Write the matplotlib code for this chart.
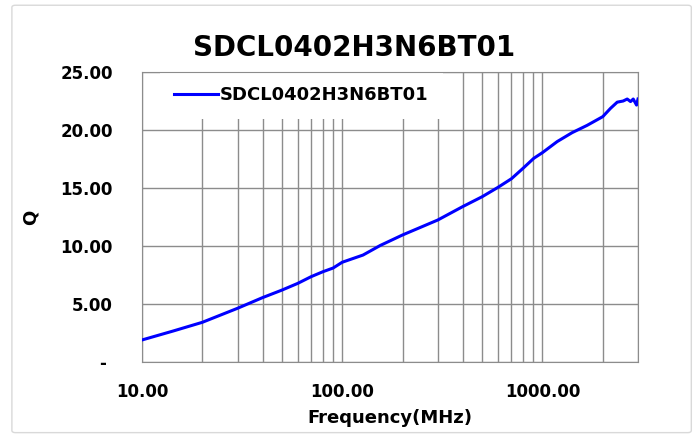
import matplotlib
matplotlib.use("Agg")
import matplotlib.pyplot as plt
from matplotlib.ticker import FixedLocator, FuncFormatter, NullFormatter
from matplotlib.patches import FancyBboxPatch

# values
freq_mhz = [10, 14.3, 20, 30, 40, 50, 60, 70, 80, 90, 100, 127, 155, 200, 300, 400, 500,
            600, 700, 800, 905, 1000, 1184, 1406, 1671, 2000, 2188, 2362, 2530, 2650, 2754,
            2840, 2950, 3000]
q_values = [1.9, 2.67, 3.42, 4.63, 5.55, 6.2, 6.78, 7.36, 7.78, 8.1, 8.6, 9.22, 10.05, 10.95,
            12.24, 13.4, 14.25, 15.06, 15.8, 16.7, 17.56, 18.05, 19.0, 19.77, 20.4, 21.15, 21.87,
            22.4, 22.5, 22.67, 22.45, 22.67, 22.15, 22.67]
y_ticks = [0, 5, 10, 15, 20, 25]
x_ticks = [10, 100, 1000]
part_name = "SDCL0402H3N6BT01"

plt.rcParams['font.family'] = ['DejaVu Sans']

fig = plt.figure(figsize=(6.99, 4.37), dpi=100)
ax = fig.add_axes([142 / 699, 1 - 362 / 437, 496 / 699, 290 / 437])

# light outer chart border
fig.patches.append(FancyBboxPatch((0.017, 0.01), 0.972, 0.978, boxstyle='round,pad=0,rounding_size=0.005',
                                  transform=fig.transFigure, fill=False, edgecolor='#d9d9d9', linewidth=1))

ax.plot(freq_mhz, q_values, color='#0000ff', linewidth=2.2, label=part_name, zorder=3)

ax.set_xscale('log')
ax.set_xlim(10, 3000)
ax.set_ylim(0, 25)

ax.yaxis.set_major_locator(FixedLocator(y_ticks))
# Excel accounting style: zero shown as a dash
ax.yaxis.set_major_formatter(FuncFormatter(lambda v, p: '- ' if v == 0 else f'{v:.2f}'))
ax.xaxis.set_major_locator(FixedLocator(x_ticks))
ax.xaxis.set_major_formatter(FuncFormatter(lambda v, p: f'{v:.2f}'))
minor = [m * d for d in (10, 100, 1000) for m in range(2, 10) if m * d <= 3000]
ax.xaxis.set_minor_locator(FixedLocator(minor))
ax.xaxis.set_minor_formatter(NullFormatter())

ax.grid(True, which='major', axis='both', color='#8c8c8c', linewidth=1)
ax.grid(True, which='minor', axis='x', color='#8c8c8c', linewidth=1)
ax.set_axisbelow(True)
for s in ax.spines.values():
    s.set_color('#8c8c8c')
ax.tick_params(which='both', length=0)
ax.tick_params(axis='y', pad=21, labelsize=12)
ax.tick_params(axis='x', pad=15, labelsize=12)
for lab in ax.get_xticklabels() + ax.get_yticklabels():
    lab.set_fontweight('bold')

fig.text(354 / 699, 1 - 48 / 437, part_name, fontsize=20, fontweight='bold', ha='center', va='center')
ax.set_xlabel('Frequency(MHz)', fontsize=13, fontweight='bold', labelpad=6)
ax.set_ylabel('Q', fontsize=13, fontweight='bold', labelpad=15)

leg = ax.legend(loc='upper left', bbox_to_anchor=(18 / 496, 1.0), frameon=True, fancybox=False,
                edgecolor='none', facecolor='white', framealpha=1, handlelength=2.4, handletextpad=0.12,
                prop={'weight': 'bold', 'size': 13}, borderpad=0.8, borderaxespad=0)
leg.set_zorder(2)

plt.savefig('out.png', dpi=100)
